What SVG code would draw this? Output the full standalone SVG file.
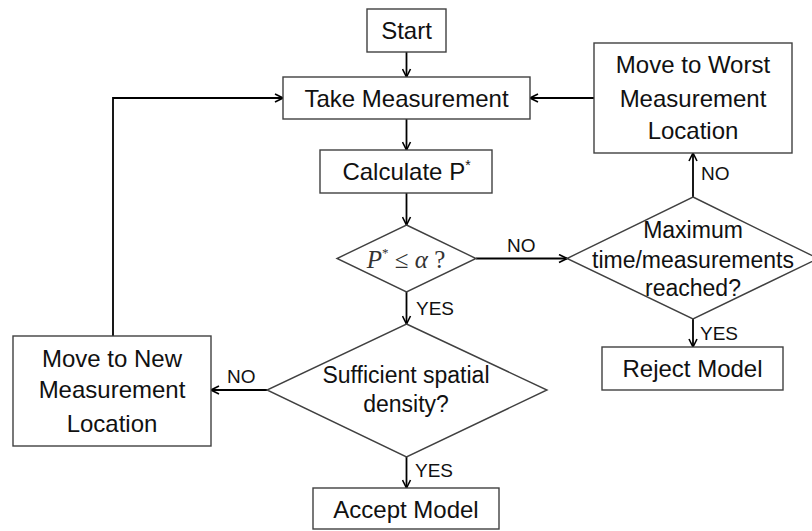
<svg xmlns="http://www.w3.org/2000/svg" width="812" height="531" viewBox="0 0 812 531">
<style>
.box{fill:#fff;stroke:#404040;stroke-width:1.4}
.dia{fill:#fff;stroke:#404040;stroke-width:1.4}
.t{font-family:"Liberation Sans",Arial,sans-serif;font-size:24px;fill:#111;text-anchor:middle}
.td{font-family:"Liberation Sans",Arial,sans-serif;font-size:23px;fill:#111;text-anchor:middle}
.lbl{font-family:"Liberation Sans",Arial,sans-serif;font-size:19px;fill:#111}
.m{font-family:"Liberation Serif","Times New Roman",serif;font-size:25px;fill:#333}
.c{fill:none;stroke:#000;stroke-width:1.8}
</style>
<defs>
<marker id="ah" viewBox="0 0 10 10" refX="9" refY="5" markerWidth="10" markerHeight="10" markerUnits="userSpaceOnUse" orient="auto">
<path d="M1,1 L9,5 L1,9" fill="none" stroke="#000" stroke-width="1.6"/>
</marker>
</defs>
<g id="connectors">
<line class="c" x1="406.5" y1="52" x2="406.5" y2="77" marker-end="url(#ah)"/>
<line class="c" x1="406.5" y1="119" x2="406.5" y2="150" marker-end="url(#ah)"/>
<line class="c" x1="406.5" y1="193" x2="406.5" y2="225" marker-end="url(#ah)"/>
<line class="c" x1="476" y1="258.5" x2="567" y2="258.5" marker-end="url(#ah)"/>
<line class="c" x1="693" y1="197" x2="693" y2="153" marker-end="url(#ah)"/>
<line class="c" x1="594" y1="98" x2="530" y2="98" marker-end="url(#ah)"/>
<line class="c" x1="693" y1="319" x2="693" y2="347" marker-end="url(#ah)"/>
<line class="c" x1="406.5" y1="292" x2="406.5" y2="324" marker-end="url(#ah)"/>
<line class="c" x1="406.5" y1="457" x2="406.5" y2="488" marker-end="url(#ah)"/>
<line class="c" x1="267" y1="390" x2="211" y2="390" marker-end="url(#ah)"/>
<path class="c" d="M113,336 V98 H283" marker-end="url(#ah)"/>
<text class="lbl" x="507" y="252">NO</text>
<text class="lbl" x="701" y="180">NO</text>
<text class="lbl" x="416" y="315">YES</text>
<text class="lbl" x="700" y="340">YES</text>
<text class="lbl" x="415" y="477">YES</text>
<text class="lbl" x="227" y="383">NO</text>
</g>
<g id="start">
<rect class="box" x="367" y="9" width="79" height="43"/>
<text class="t" x="406.5" y="39">Start</text>
</g>
<g id="take">
<rect class="box" x="283" y="77" width="247" height="42"/>
<text class="t" x="406.5" y="106.5">Take Measurement</text>
</g>
<g id="calc">
<rect class="box" x="320" y="150" width="172" height="43"/>
<text class="t" x="406.5" y="180">Calculate P<tspan font-size="14" dy="-10">*</tspan></text>
</g>
<g id="d1">
<polygon class="dia" points="406.5,225 476,258.5 406.5,292 337,258.5"/>
<text class="m" x="406" y="268" text-anchor="middle"><tspan font-style="italic">P</tspan><tspan font-size="13" dy="-11">*</tspan><tspan dy="11"> ≤ </tspan><tspan font-style="italic">α</tspan> ?</text>
</g>
<g id="d2">
<polygon class="dia" points="693,197 818,258.5 693,319 567,258.5"/>
<text class="td" x="693" y="238">Maximum</text>
<text class="td" x="693" y="268">time/measurements</text>
<text class="td" x="693" y="296">reached?</text>
</g>
<g id="worst">
<rect class="box" x="594" y="43" width="198" height="110"/>
<text class="t" x="693" y="73">Move to Worst</text>
<text class="t" x="693" y="106.5">Measurement</text>
<text class="t" x="693" y="139">Location</text>
</g>
<g id="reject">
<rect class="box" x="602" y="347" width="181" height="43"/>
<text class="t" x="692.5" y="377">Reject Model</text>
</g>
<g id="d3">
<polygon class="dia" points="406.5,324 547,390 406.5,457 267,390"/>
<text class="td" x="406" y="383">Sufficient spatial</text>
<text class="td" x="406" y="412">density?</text>
</g>
<g id="new">
<rect class="box" x="13" y="336" width="198" height="110"/>
<text class="t" x="112" y="366.5">Move to New</text>
<text class="t" x="112" y="398">Measurement</text>
<text class="t" x="112" y="431.5">Location</text>
</g>
<g id="accept">
<rect class="box" x="313" y="488" width="186" height="41"/>
<text class="t" x="406" y="518">Accept Model</text>
</g>
</svg>
